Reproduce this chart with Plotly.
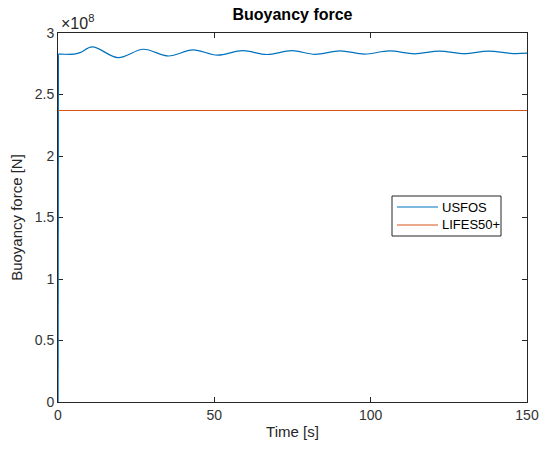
import plotly.graph_objects as go

# USFOS buoyancy-force time history (force in units of 1e8 N)
usfos_time = [0, 0.1, 1, 5, 7, 11, 19.2, 27.3, 35.3, 43.1, 51, 59, 66.8, 74.8,
              82.2, 90.2, 98, 106, 114, 122, 130, 137.6, 145.5, 150]
usfos_force = [0, 2.828, 2.828, 2.828, 2.840, 2.887, 2.800, 2.868, 2.813, 2.862,
               2.820, 2.857, 2.825, 2.856, 2.827, 2.855, 2.829, 2.854, 2.831,
               2.853, 2.832, 2.853, 2.833, 2.836]

# LIFES50+ constant buoyancy force
lifes_time = [0, 150]
lifes_force = [2.37, 2.37]

series_names = ["USFOS", "LIFES50+"]
series_colors = ["#0072BD", "#D95319"]

x_ticks = [0, 50, 100, 150]
y_ticks = [0, 0.5, 1, 1.5, 2, 2.5, 3]
y_tick_text = ["0", "0.5", "1", "1.5", "2", "2.5", "3"]

W, H = 539, 449
ML, MR, MT, MB = 58, 12, 33, 47
PW, PH = W - ML - MR, H - MT - MB

axis_color = "#262626"
font_family = "Liberation Sans, Arial, Helvetica, sans-serif"

fig = go.Figure()
# initial load ramp drawn straight, the oscillating response smoothed
fig.add_trace(go.Scatter(
    x=usfos_time[:2], y=usfos_force[:2], mode="lines", name=series_names[0],
    line=dict(color=series_colors[0], width=1.4), legendgroup="usfos",
))
fig.add_trace(go.Scatter(
    x=usfos_time[1:], y=usfos_force[1:], mode="lines", name=series_names[0],
    line=dict(color=series_colors[0], width=1.2, shape="spline", smoothing=1.0),
    legendgroup="usfos",
))
fig.add_trace(go.Scatter(
    x=lifes_time, y=lifes_force, mode="lines", name=series_names[1],
    line=dict(color=series_colors[1], width=1.2),
))

common_axis = dict(
    showline=True, linecolor=axis_color, linewidth=1, mirror="ticks",
    ticks="inside", ticklen=5, tickcolor=axis_color, tickwidth=1,
    showgrid=False, zeroline=False, automargin=False, layer="below traces",
    tickfont=dict(family=font_family, size=14, color="#333333"),
)

fig.update_layout(
    width=W, height=H,
    margin=dict(l=ML, r=MR, t=MT, b=MB, autoexpand=False),
    paper_bgcolor="white", plot_bgcolor="white",
    font=dict(family=font_family, color=axis_color),
    title=dict(text="<b>Buoyancy force</b>", x=(ML + PW / 2) / W,
               xanchor="center", y=1 - 14 / H, yanchor="middle",
               yref="container",
               font=dict(family=font_family, size=16, color="black")),
    xaxis=dict(range=[0, 150], tickvals=x_ticks,
               title=dict(text="Time [s]", standoff=4,
                          font=dict(family=font_family, size=15, color=axis_color)),
               **common_axis),
    yaxis=dict(range=[0, 3], tickvals=y_ticks, ticktext=y_tick_text,
               title=dict(text="Buoyancy force [N]", standoff=8,
                          font=dict(family=font_family, size=15, color=axis_color)),
               **common_axis),
    showlegend=False,
)


def px_x(px):
    return (px - ML) / PW


def px_y(py):
    return (H - MB - py) / PH


# Legend box
box_l, box_r, box_t, box_b = 392, 501, 196, 236
fig.add_shape(type="rect", xref="paper", yref="paper",
              x0=px_x(box_l), x1=px_x(box_r), y0=px_y(box_b), y1=px_y(box_t),
              line=dict(color=axis_color, width=1), fillcolor="white", layer="above")
row_y = [207, 225]
for name, color, ry in zip(series_names, series_colors, row_y):
    fig.add_shape(type="line", xref="paper", yref="paper",
                  x0=px_x(397), x1=px_x(438), y0=px_y(ry), y1=px_y(ry),
                  line=dict(color=color, width=1.2), layer="above")
    fig.add_annotation(text=name, xref="paper", yref="paper",
                       x=px_x(440), y=px_y(ry), xanchor="left", yanchor="middle",
                       showarrow=False,
                       font=dict(family=font_family, size=13, color="black"))

fig.add_annotation(
    text="×10<sup>8</sup>", xref="paper", yref="paper", x=0, y=1,
    xanchor="left", yanchor="bottom", showarrow=False, xshift=1, yshift=-1,
    font=dict(family=font_family, size=16, color=axis_color),
)

fig.write_html("out.html")
